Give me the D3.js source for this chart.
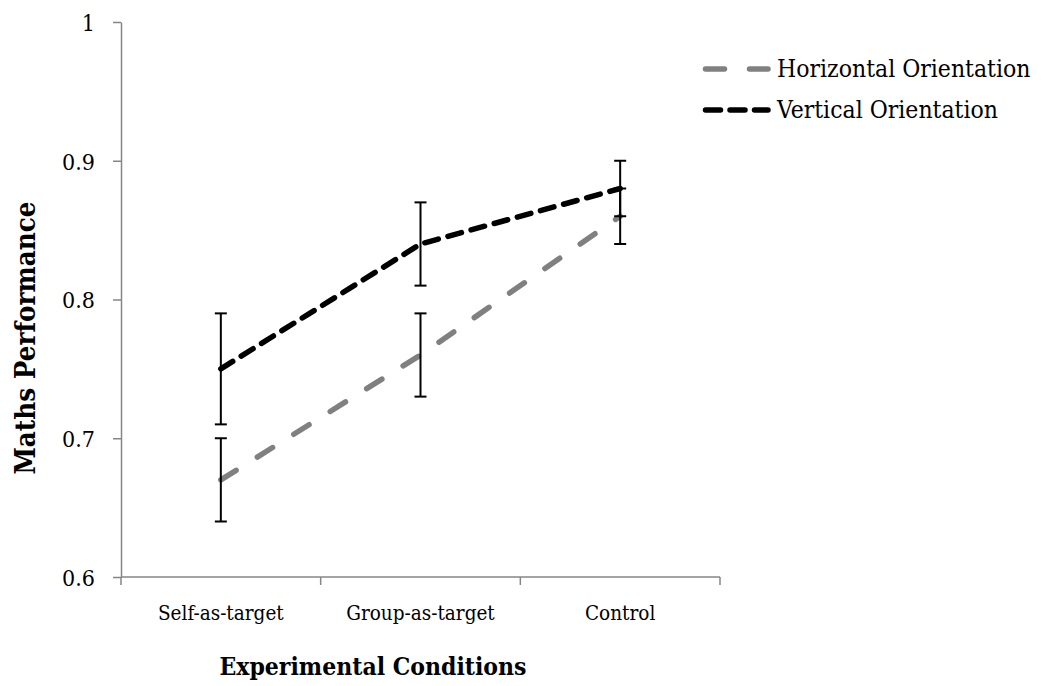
<!DOCTYPE html>
<html>
<head>
<meta charset="utf-8">
<script src="https://cdn.jsdelivr.net/npm/d3@7"></script>
<style>
  body { margin: 0; background: #fff; }
  svg text { font-family: "DejaVu Serif Condensed", "DejaVu Serif", serif; fill: #000; }
</style>
</head>
<body>
<div id="chart"></div>
<script>
// chart values
const categories = ['Self-as-target', 'Group-as-target', 'Control'];
const seriesNames = ['Horizontal Orientation', 'Vertical Orientation'];
const horizontalValues = [0.67, 0.76, 0.86];
const horizontalErrors = [0.03, 0.03, 0.02];
const verticalValues = [0.75, 0.84, 0.88];
const verticalErrors = [0.04, 0.03, 0.02];
const yTicks = [0.6, 0.7, 0.8, 0.9, 1];

const width = 1044;
const height = 686;
const margin = { top: 22, right: 324, bottom: 109, left: 121 };

const series = [
  { name: seriesNames[0], values: horizontalValues, errors: horizontalErrors, color: '#808080', dash: '18,25' },
  { name: seriesNames[1], values: verticalValues, errors: verticalErrors, color: '#000000', dash: '14,10' },
];

const svg = d3.select('#chart')
  .append('svg')
  .attr('width', width)
  .attr('height', height);

const x = d3.scaleBand()
  .domain(categories)
  .range([margin.left, width - margin.right]);

const y = d3.scaleLinear()
  .domain([0.6, 1])
  .range([height - margin.bottom, margin.top]);

// y axis
const yAxis = svg.append('g')
  .attr('transform', `translate(${margin.left},0)`)
  .call(d3.axisLeft(y).tickValues(yTicks).tickFormat((d) => d3.format('')(d)).tickSize(8).tickSizeOuter(0));
yAxis.select('.domain').attr('stroke', '#868686').attr('stroke-width', 1.5);
yAxis.selectAll('.tick line').attr('stroke', '#868686').attr('stroke-width', 1.5);
yAxis.selectAll('.tick text')
  .attr('x', -26)
  .attr('dy', '0.36em')
  .style('font-size', '23px');

// x axis with ticks at category boundaries
const xAxisG = svg.append('g')
  .attr('transform', `translate(0,${height - margin.bottom})`);
xAxisG.append('line')
  .attr('x1', margin.left)
  .attr('x2', width - margin.right)
  .attr('stroke', '#868686')
  .attr('stroke-width', 1.5);
const boundaries = categories.map((c) => x(c)).concat([x(categories[categories.length - 1]) + x.bandwidth()]);
xAxisG.selectAll('.xtick')
  .data(boundaries)
  .join('line')
  .attr('x1', (d) => d)
  .attr('x2', (d) => d)
  .attr('y1', 0)
  .attr('y2', 8)
  .attr('stroke', '#868686')
  .attr('stroke-width', 1.5);
xAxisG.selectAll('.xlabel')
  .data(categories)
  .join('text')
  .attr('x', (d) => x(d) + x.bandwidth() / 2)
  .attr('y', 43)
  .attr('text-anchor', 'middle')
  .style('font-size', '20.5px')
  .text((d) => d);

// lines
const line = d3.line()
  .x((d, i) => x(categories[i]) + x.bandwidth() / 2)
  .y((d) => y(d));

series.forEach((s) => {
  svg.append('path')
    .datum(s.values)
    .attr('fill', 'none')
    .attr('stroke', s.color)
    .attr('stroke-width', 5.5)
    .attr('stroke-dasharray', s.dash)
    .attr('stroke-linecap', 'round')
    .attr('d', line);
});

// error bars
series.forEach((s) => {
  const g = svg.append('g');
  s.values.forEach((v, i) => {
    const cx = x(categories[i]) + x.bandwidth() / 2;
    const lo = y(v - s.errors[i]);
    const hi = y(v + s.errors[i]);
    g.append('line').attr('x1', cx).attr('x2', cx).attr('y1', lo).attr('y2', hi)
      .attr('stroke', '#000').attr('stroke-width', 2);
    [lo, hi].forEach((yy) => {
      g.append('line').attr('x1', cx - 6).attr('x2', cx + 6).attr('y1', yy).attr('y2', yy)
        .attr('stroke', '#000').attr('stroke-width', 2);
    });
  });
});

// legend
const legendRows = [69, 110];
series.forEach((s, i) => {
  const row = svg.append('g').attr('transform', `translate(0,${legendRows[i]})`);
  row.append('line')
    .attr('x1', 705.5).attr('x2', 768)
    .attr('stroke', s.color)
    .attr('stroke-width', 5.5)
    .attr('stroke-dasharray', i === 0 ? '19,25' : '15,9.5')
    .attr('stroke-linecap', 'round');
  row.append('text')
    .attr('x', 777)
    .attr('y', 8)
    .style('font-size', '24.5px')
    .text(s.name);
});

// axis titles
svg.append('text')
  .attr('x', 373)
  .attr('y', 675)
  .attr('text-anchor', 'middle')
  .style('font-size', '24.5px')
  .style('font-weight', 'bold')
  .text('Experimental Conditions');

svg.append('text')
  .attr('transform', 'translate(35,338) rotate(-90)')
  .attr('text-anchor', 'middle')
  .style('font-size', '27.5px')
  .style('font-weight', 'bold')
  .text('Maths Performance');
</script>
</body>
</html>
